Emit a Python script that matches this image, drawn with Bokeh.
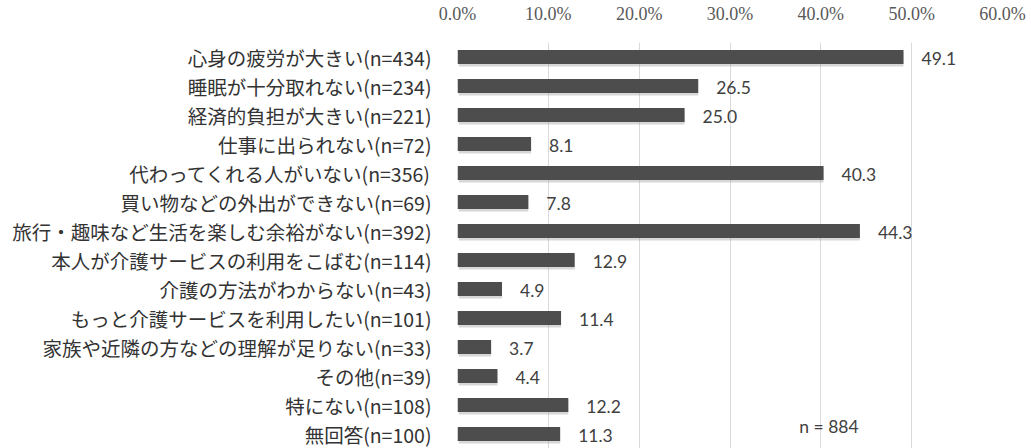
from bokeh.plotting import figure
from bokeh.models import Range1d, FixedTicker, PrintfTickFormatter, ColumnDataSource, Label
from bokeh.core.properties import value
from bokeh.transform import dodge
from bokeh.embed import file_html
from bokeh.resources import INLINE

categories = [
    "心身の疲労が大きい(n=434)",
    "睡眠が十分取れない(n=234)",
    "経済的負担が大きい(n=221)",
    "仕事に出られない(n=72)",
    "代わってくれる人がいない(n=356)",
    "買い物などの外出ができない(n=69)",
    "旅行・趣味など生活を楽しむ余裕がない(n=392)",
    "本人が介護サービスの利用をこばむ(n=114)",
    "介護の方法がわからない(n=43)",
    "もっと介護サービスを利用したい(n=101)",
    "家族や近隣の方などの理解が足りない(n=33)",
    "その他(n=39)",
    "特にない(n=108)",
    "無回答(n=100)",
]
values = [49.1, 26.5, 25.0, 8.1, 40.3, 7.8, 44.3, 12.9, 4.9, 11.4, 3.7, 4.4, 12.2, 11.3]
x_ticks = [0, 10, 20, 30, 40, 50, 60]
note = "n = 884"

idx = list(range(len(categories)))
src = ColumnDataSource(dict(y=idx, v=values, lab=[f"{v:.1f}" for v in values]))

p = figure(width=1031, height=448, output_backend="svg", toolbar_location=None,
           x_range=Range1d(0, 60), y_range=Range1d(13.5, -0.5),
           x_axis_location="above",
           min_border_left=457, min_border_right=29, min_border_top=40, min_border_bottom=0)
p.outline_line_color = None
p.background_fill_color = "white"
p.border_fill_color = "white"

# soft drop shadow
p.hbar(y=dodge("y", 0.08, range=p.y_range), left=0.15, right="v", height=0.5, source=src,
       fill_color="#9a9a9a", fill_alpha=0.4, line_color=None)
p.hbar(y="y", left=0, right="v", height=0.48, source=src,
       fill_color="#4d4d4d", line_color=None)

p.text(x="v", y="y", text="lab", source=src, x_offset=18, y_offset=1,
       text_baseline="middle", text_align="left",
       text_font=value("Lato"), text_font_size="17.5px", text_color="#404040")

xa = p.xaxis[0]
xa.ticker = FixedTicker(ticks=x_ticks)
xa.formatter = PrintfTickFormatter(format="%.1f%%")
xa.axis_line_color = None
xa.major_tick_line_color = None
xa.minor_tick_line_color = None
xa.major_label_standoff = 13
xa.major_label_text_font = "Liberation Serif"
xa.major_label_text_font_size = "18px"
xa.major_label_text_color = "#595959"

ya = p.yaxis[0]
ya.ticker = FixedTicker(ticks=idx)
ya.major_label_overrides = {i: c for i, c in zip(idx, categories)}
ya.axis_line_color = None
ya.major_tick_line_color = None
ya.minor_tick_line_color = None
ya.major_label_standoff = 20
ya.major_label_text_font = "Noto Sans CJK JP"
ya.major_label_text_font_size = "19.5px"
ya.major_label_text_color = "#333333"

p.xgrid.ticker = FixedTicker(ticks=x_ticks)
p.xgrid.grid_line_color = "#d9d9d9"
p.ygrid.grid_line_color = None

p.add_layout(Label(x=40.9, y=12.75, text=note, text_align="center", text_baseline="middle",
                   text_font="Lato", text_font_size="17.5px", text_color="#404040"))

open("out.html", "w").write(file_html(p, INLINE))
